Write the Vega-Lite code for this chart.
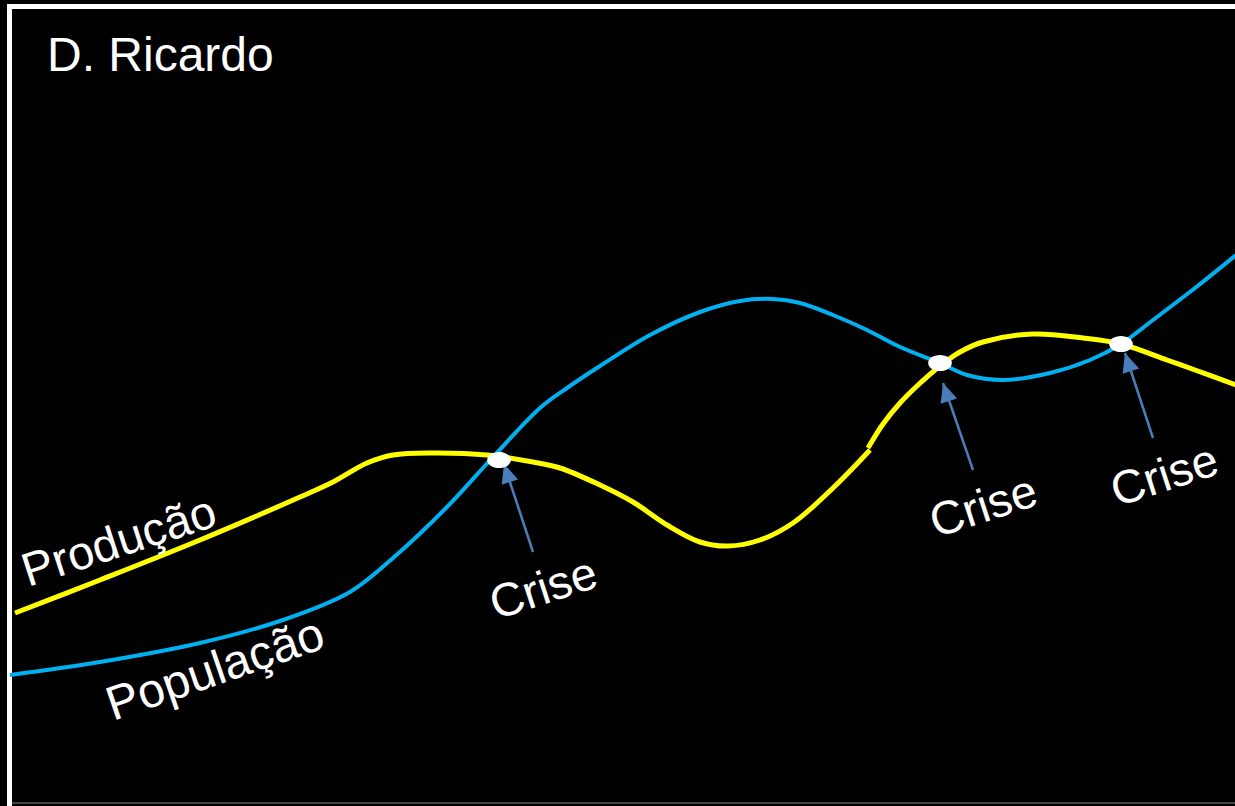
{
  "$schema": "https://vega.github.io/schema/vega-lite/v6.json",
  "width": 1235,
  "height": 806,
  "autosize": {"type": "none"},
  "padding": 0,
  "background": "#000000",
  "config": {"view": {"stroke": null}},
  "datasets": {
    "curves": [
      {"serie": "Produção", "seg": "a", "x": 1.5, "y": 19.3},
      {"serie": "Produção", "seg": "a", "x": 10.0, "y": 22.6},
      {"serie": "Produção", "seg": "a", "x": 20.0, "y": 26.6},
      {"serie": "Produção", "seg": "a", "x": 30.0, "y": 30.9},
      {"serie": "Produção", "seg": "a", "x": 33.3, "y": 32.4},
      {"serie": "Produção", "seg": "a", "x": 36.7, "y": 34.3},
      {"serie": "Produção", "seg": "a", "x": 39.3, "y": 35.1},
      {"serie": "Produção", "seg": "a", "x": 43.3, "y": 35.3},
      {"serie": "Produção", "seg": "a", "x": 48.7, "y": 35.1},
      {"serie": "Produção", "seg": "a", "x": 53.3, "y": 34.4},
      {"serie": "Produção", "seg": "a", "x": 56.0, "y": 33.8},
      {"serie": "Produção", "seg": "a", "x": 60.0, "y": 32.1},
      {"serie": "Produção", "seg": "a", "x": 63.3, "y": 30.4},
      {"serie": "Produção", "seg": "a", "x": 66.7, "y": 28.1},
      {"serie": "Produção", "seg": "a", "x": 70.0, "y": 26.4},
      {"serie": "Produção", "seg": "a", "x": 72.8, "y": 26.0},
      {"serie": "Produção", "seg": "a", "x": 76.0, "y": 26.6},
      {"serie": "Produção", "seg": "a", "x": 79.3, "y": 28.3},
      {"serie": "Produção", "seg": "a", "x": 83.3, "y": 31.8},
      {"serie": "Produção", "seg": "a", "x": 87.0, "y": 35.6},
      {"serie": "Produção", "seg": "b", "x": 86.8, "y": 35.8},
      {"serie": "Produção", "seg": "b", "x": 88.3, "y": 38.2},
      {"serie": "Produção", "seg": "b", "x": 90.0, "y": 40.3},
      {"serie": "Produção", "seg": "b", "x": 91.7, "y": 42.0},
      {"serie": "Produção", "seg": "b", "x": 94.0, "y": 44.0},
      {"serie": "Produção", "seg": "b", "x": 96.0, "y": 45.4},
      {"serie": "Produção", "seg": "b", "x": 98.3, "y": 46.4},
      {"serie": "Produção", "seg": "b", "x": 103.3, "y": 47.2},
      {"serie": "Produção", "seg": "b", "x": 108.3, "y": 46.8},
      {"serie": "Produção", "seg": "b", "x": 112.1, "y": 46.2},
      {"serie": "Produção", "seg": "b", "x": 116.7, "y": 44.6},
      {"serie": "Produção", "seg": "b", "x": 119.5, "y": 43.6},
      {"serie": "Produção", "seg": "b", "x": 123.6, "y": 42.1},
      {"serie": "População", "seg": "a", "x": 1.0, "y": 13.1},
      {"serie": "População", "seg": "a", "x": 10.0, "y": 14.4},
      {"serie": "População", "seg": "a", "x": 20.0, "y": 16.3},
      {"serie": "População", "seg": "a", "x": 28.3, "y": 18.6},
      {"serie": "População", "seg": "a", "x": 35.0, "y": 21.4},
      {"serie": "População", "seg": "a", "x": 39.3, "y": 24.8},
      {"serie": "População", "seg": "a", "x": 44.7, "y": 29.9},
      {"serie": "População", "seg": "a", "x": 49.3, "y": 34.9},
      {"serie": "População", "seg": "a", "x": 54.0, "y": 39.8},
      {"serie": "População", "seg": "a", "x": 56.7, "y": 41.8},
      {"serie": "População", "seg": "a", "x": 60.0, "y": 44.0},
      {"serie": "População", "seg": "a", "x": 65.0, "y": 47.1},
      {"serie": "População", "seg": "a", "x": 70.0, "y": 49.4},
      {"serie": "População", "seg": "a", "x": 74.0, "y": 50.5},
      {"serie": "População", "seg": "a", "x": 77.3, "y": 50.7},
      {"serie": "População", "seg": "a", "x": 80.0, "y": 50.3},
      {"serie": "População", "seg": "a", "x": 83.3, "y": 49.1},
      {"serie": "População", "seg": "a", "x": 86.7, "y": 47.6},
      {"serie": "População", "seg": "a", "x": 90.0, "y": 45.9},
      {"serie": "População", "seg": "a", "x": 94.0, "y": 44.3},
      {"serie": "População", "seg": "a", "x": 96.7, "y": 43.1},
      {"serie": "População", "seg": "a", "x": 100.3, "y": 42.6},
      {"serie": "População", "seg": "a", "x": 105.0, "y": 43.3},
      {"serie": "População", "seg": "a", "x": 109.0, "y": 44.6},
      {"serie": "População", "seg": "a", "x": 112.1, "y": 46.2},
      {"serie": "População", "seg": "a", "x": 115.3, "y": 48.6},
      {"serie": "População", "seg": "a", "x": 119.5, "y": 51.8},
      {"serie": "População", "seg": "a", "x": 123.6, "y": 55.1}
    ],
    "dots": [
      {"x": 49.9, "y": 34.6},
      {"x": 94.0, "y": 44.3},
      {"x": 112.1, "y": 46.2}
    ],
    "arrows": [
      {"x": 53.3, "y": 25.4, "x2": 50.4, "y2": 34.2},
      {"x": 97.3, "y": 33.6, "x2": 94.3, "y2": 42.3},
      {"x": 115.3, "y": 36.8, "x2": 112.5, "y2": 45.3}
    ],
    "labels": [
      {"label": "Produção", "kind": "curve1", "x": 2.8, "y": 21.9},
      {"label": "População", "kind": "curve2", "x": 11.3, "y": 8.5},
      {"label": "Crise", "kind": "crise", "x": 49.6, "y": 18.6},
      {"label": "Crise", "kind": "crise", "x": 93.6, "y": 26.8},
      {"label": "Crise", "kind": "crise", "x": 111.7, "y": 29.9}
    ],
    "title": [
      {"label": "D. Ricardo", "x": 4.7, "y": 73.5}
    ],
    "frame": [
      {"x": 0.95, "y": 80.2, "x2": 0.95, "y2": 0},
      {"x": 0.7, "y": 79.95, "x2": 123.5, "y2": 79.95}
    ],
    "bottom": [
      {"x": 1.2, "y": 0.3, "x2": 123.5, "y2": 0.3}
    ]
  },
  "layer": [
    {
      "data": {"name": "frame"},
      "mark": {"type": "rule", "color": "#ffffff", "strokeWidth": 5},
      "encoding": {
        "x": {"field": "x", "type": "quantitative", "scale": {"domain": [0, 123.5], "nice": false, "zero": false}, "axis": null},
        "y": {"field": "y", "type": "quantitative", "scale": {"domain": [0, 80.6], "nice": false, "zero": false}, "axis": null},
        "x2": {"field": "x2"},
        "y2": {"field": "y2"}
      }
    },
    {
      "data": {"name": "bottom"},
      "mark": {"type": "rule", "color": "#444444", "strokeWidth": 2},
      "encoding": {
        "x": {"field": "x", "type": "quantitative", "axis": null},
        "y": {"field": "y", "type": "quantitative", "axis": null},
        "x2": {"field": "x2"},
        "y2": {"field": "y2"}
      }
    },
    {
      "data": {"name": "curves"},
      "transform": [{"filter": "datum.serie == 'População'"}],
      "mark": {"type": "line", "interpolate": "catmull-rom", "color": "#00B0F0", "strokeWidth": 4},
      "encoding": {
        "x": {"field": "x", "type": "quantitative", "axis": null},
        "y": {"field": "y", "type": "quantitative", "axis": null},
        "detail": {"field": "seg"}
      }
    },
    {
      "data": {"name": "curves"},
      "transform": [{"filter": "datum.serie == 'Produção'"}],
      "mark": {"type": "line", "interpolate": "catmull-rom", "color": "#FFFF00", "strokeWidth": 5},
      "encoding": {
        "x": {"field": "x", "type": "quantitative", "axis": null},
        "y": {"field": "y", "type": "quantitative", "axis": null},
        "detail": {"field": "seg"}
      }
    },
    {
      "data": {"name": "arrows"},
      "mark": {"type": "rule", "color": "#4A7EBB", "strokeWidth": 2.5},
      "encoding": {
        "x": {"field": "x", "type": "quantitative", "axis": null},
        "y": {"field": "y", "type": "quantitative", "axis": null},
        "x2": {"field": "x2"},
        "y2": {"field": "y2"}
      }
    },
    {
      "data": {"name": "arrows"},
      "mark": {"type": "point", "shape": "M0,0 L1,2.2 L-1,2.2 Z", "size": 300, "filled": true, "color": "#4A7EBB", "opacity": 1, "angle": -18},
      "encoding": {
        "x": {"field": "x2", "type": "quantitative", "axis": null},
        "y": {"field": "y2", "type": "quantitative", "axis": null}
      }
    },
    {
      "data": {"name": "dots"},
      "mark": {"type": "point", "shape": "M-1,0 A1,0.68 0 1,0 1,0 A1,0.68 0 1,0 -1,0 Z", "size": 560, "filled": true, "color": "#ffffff", "opacity": 1, "strokeWidth": 0},
      "encoding": {
        "x": {"field": "x", "type": "quantitative", "axis": null},
        "y": {"field": "y", "type": "quantitative", "axis": null}
      }
    },
    {
      "data": {"name": "labels"},
      "transform": [{"filter": "datum.kind == 'curve1'"}],
      "mark": {"type": "text", "font": "Liberation Sans", "fontSize": 47, "color": "#ffffff", "align": "left", "baseline": "alphabetic", "angle": -18},
      "encoding": {
        "x": {"field": "x", "type": "quantitative", "axis": null},
        "y": {"field": "y", "type": "quantitative", "axis": null},
        "text": {"field": "label"}
      }
    },
    {
      "data": {"name": "labels"},
      "transform": [{"filter": "datum.kind == 'curve2'"}],
      "mark": {"type": "text", "font": "Liberation Sans", "fontSize": 48, "color": "#ffffff", "align": "left", "baseline": "alphabetic", "angle": -19},
      "encoding": {
        "x": {"field": "x", "type": "quantitative", "axis": null},
        "y": {"field": "y", "type": "quantitative", "axis": null},
        "text": {"field": "label"}
      }
    },
    {
      "data": {"name": "labels"},
      "transform": [{"filter": "datum.kind == 'crise'"}],
      "mark": {"type": "text", "font": "Liberation Sans", "fontSize": 47, "color": "#ffffff", "align": "left", "baseline": "alphabetic", "angle": -18},
      "encoding": {
        "x": {"field": "x", "type": "quantitative", "axis": null},
        "y": {"field": "y", "type": "quantitative", "axis": null},
        "text": {"field": "label"}
      }
    },
    {
      "data": {"name": "title"},
      "mark": {"type": "text", "font": "Liberation Sans", "fontSize": 48, "color": "#ffffff", "align": "left", "baseline": "alphabetic"},
      "encoding": {
        "x": {"field": "x", "type": "quantitative", "axis": null},
        "y": {"field": "y", "type": "quantitative", "axis": null},
        "text": {"field": "label"}
      }
    }
  ]
}
